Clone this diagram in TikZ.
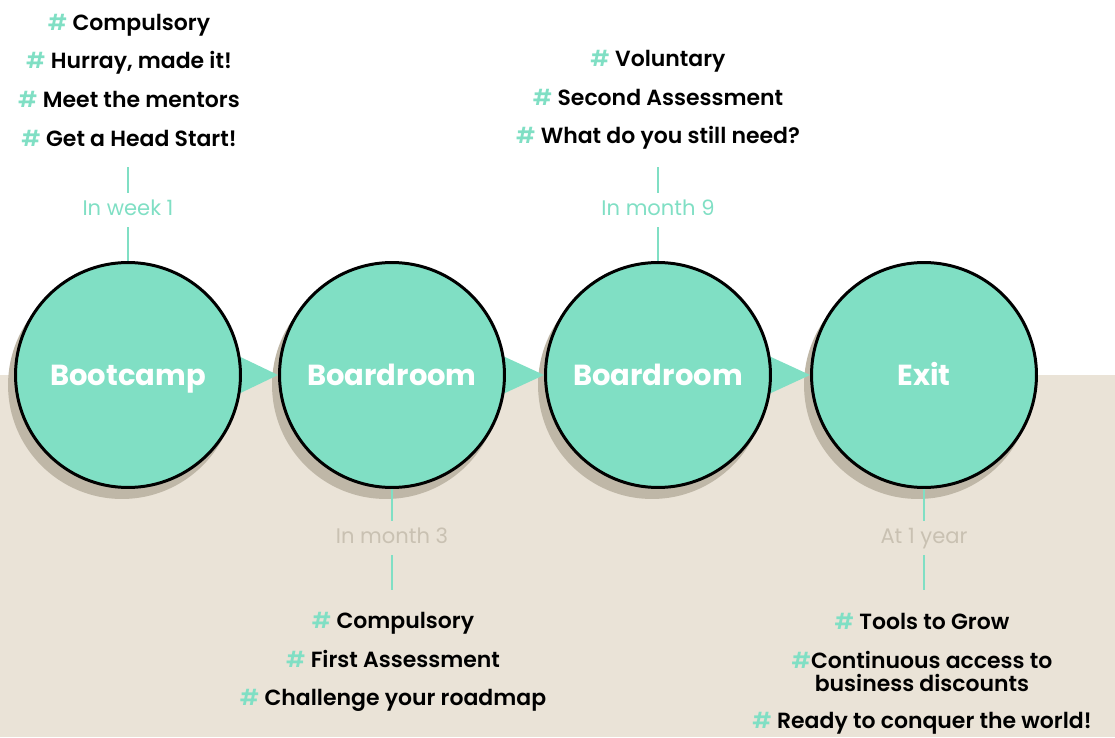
\documentclass[tikz,border=0pt]{standalone}
\usepackage{fontspec}
\setmainfont{Poppins}
\newfontfamily\semib{Poppins SemiBold}
\usetikzlibrary{calc}
\pgfdeclarelayer{background}
\pgfsetlayers{background,main}
\definecolor{mint}{HTML}{80DFC4}
\definecolor{sand}{HTML}{EAE3D7}
\definecolor{taupe}{HTML}{BFB7A7}
\definecolor{stone}{HTML}{C9C1B2}
\tikzset{
  stage/.style={circle, draw=black, line width=1.7pt, fill=mint, minimum size=4.5cm, inner sep=0pt, text=white, text height=11.6pt, text depth=0pt, font=\fontsize{16.5}{19}\selectfont\bfseries},
  when/.style={font=\fontsize{12}{14}\selectfont, inner sep=4pt, text height=8.6pt, text depth=2.6pt},
  tags/.style={align=center, font=\semib\fontsize{12.5}{22}\selectfont},
  tick/.style={mint, line width=1.1pt}
}
\newcommand{\hs}{{\color{mint}\#}}

\begin{document}
\begin{tikzpicture}[x=0.02cm,y=-0.02cm]
\useasboundingbox (0,0) rectangle (1115,737);
% stages
\node[stage] (boot) at (128,375) {Bootcamp};
\node[stage] (board1) at (392,375) {Boardroom};
\node[stage] (board2) at (658,375) {Boardroom};
\node[stage] (exit) at (924,375) {Exit};
\begin{pgfonlayer}{background}
	\fill[sand] (0,375) rectangle (1115,737);
	\fill[taupe] ($(boot)+(-6,10)$) circle (2.28cm);
	\fill[taupe] ($(board1)+(-6,10)$) circle (2.28cm);
	\fill[taupe] ($(board2)+(-6,10)$) circle (2.28cm);
	\fill[taupe] ($(exit)+(-6,10)$) circle (2.28cm);
	% arrow heads
	\fill[mint] ($(boot.east)+(-14,-24)$) -- (board1.west) -- ($(boot.east)+(-14,24)$) -- cycle;
	\fill[mint] ($(board1.east)+(-14,-24)$) -- (board2.west) -- ($(board1.east)+(-14,24)$) -- cycle;
	\fill[mint] ($(board2.east)+(-14,-24)$) -- (exit.west) -- ($(board2.east)+(-14,24)$) -- cycle;
\end{pgfonlayer}
% timing labels
\node[when, text=mint] (week1) at (128,210) {In week 1};
\node[when, text=mint] (month9) at (658,210) {In month 9};
\node[when, text=stone] (month3) at (392,538) {In month 3};
\node[when, text=stone] (year1) at (924,538) {At 1 year};
\coordinate (week1end) at (128,167);
\coordinate (month9end) at (658,167);
\coordinate (month3end) at (392,590);
\coordinate (year1end) at (924,590);
\draw[tick] (week1end) -- (week1.north);
\draw[tick] (week1.south) -- (boot.north);
\draw[tick] (month9end) -- (month9.north);
\draw[tick] (month9.south) -- (board2.north);
\draw[tick] (board1.south) -- (month3.north);
\draw[tick] (month3.south) -- (month3end);
\draw[tick] (exit.south) -- (year1.north);
\draw[tick] (year1.south) -- (year1end);
% hashtags
\node[tags] (bootTags) at (129,80) {\hs{} Compulsory\\ \hs{} Hurray, made it!\\ \hs{} Meet the mentors\\ \hs{} Get a Head Start!};
\node[tags] (board2Tags) at (658,100) {\hs{} Voluntary\\ \hs{} Second Assessment\\ \hs{} What do you still need?};
\node[tags] (board1Tags) at (393,662) {\hs{} Compulsory\\ \hs{} First Assessment\\ \hs{} Challenge your roadmap};
\node[tags] (exitTags) at (922,674) {\hs{} Tools to Grow\\ \hs{}Continuous access to\\[-8.5pt] business discounts\\[-1pt] \hs{} Ready to conquer the world!};
\end{tikzpicture}
\end{document}
